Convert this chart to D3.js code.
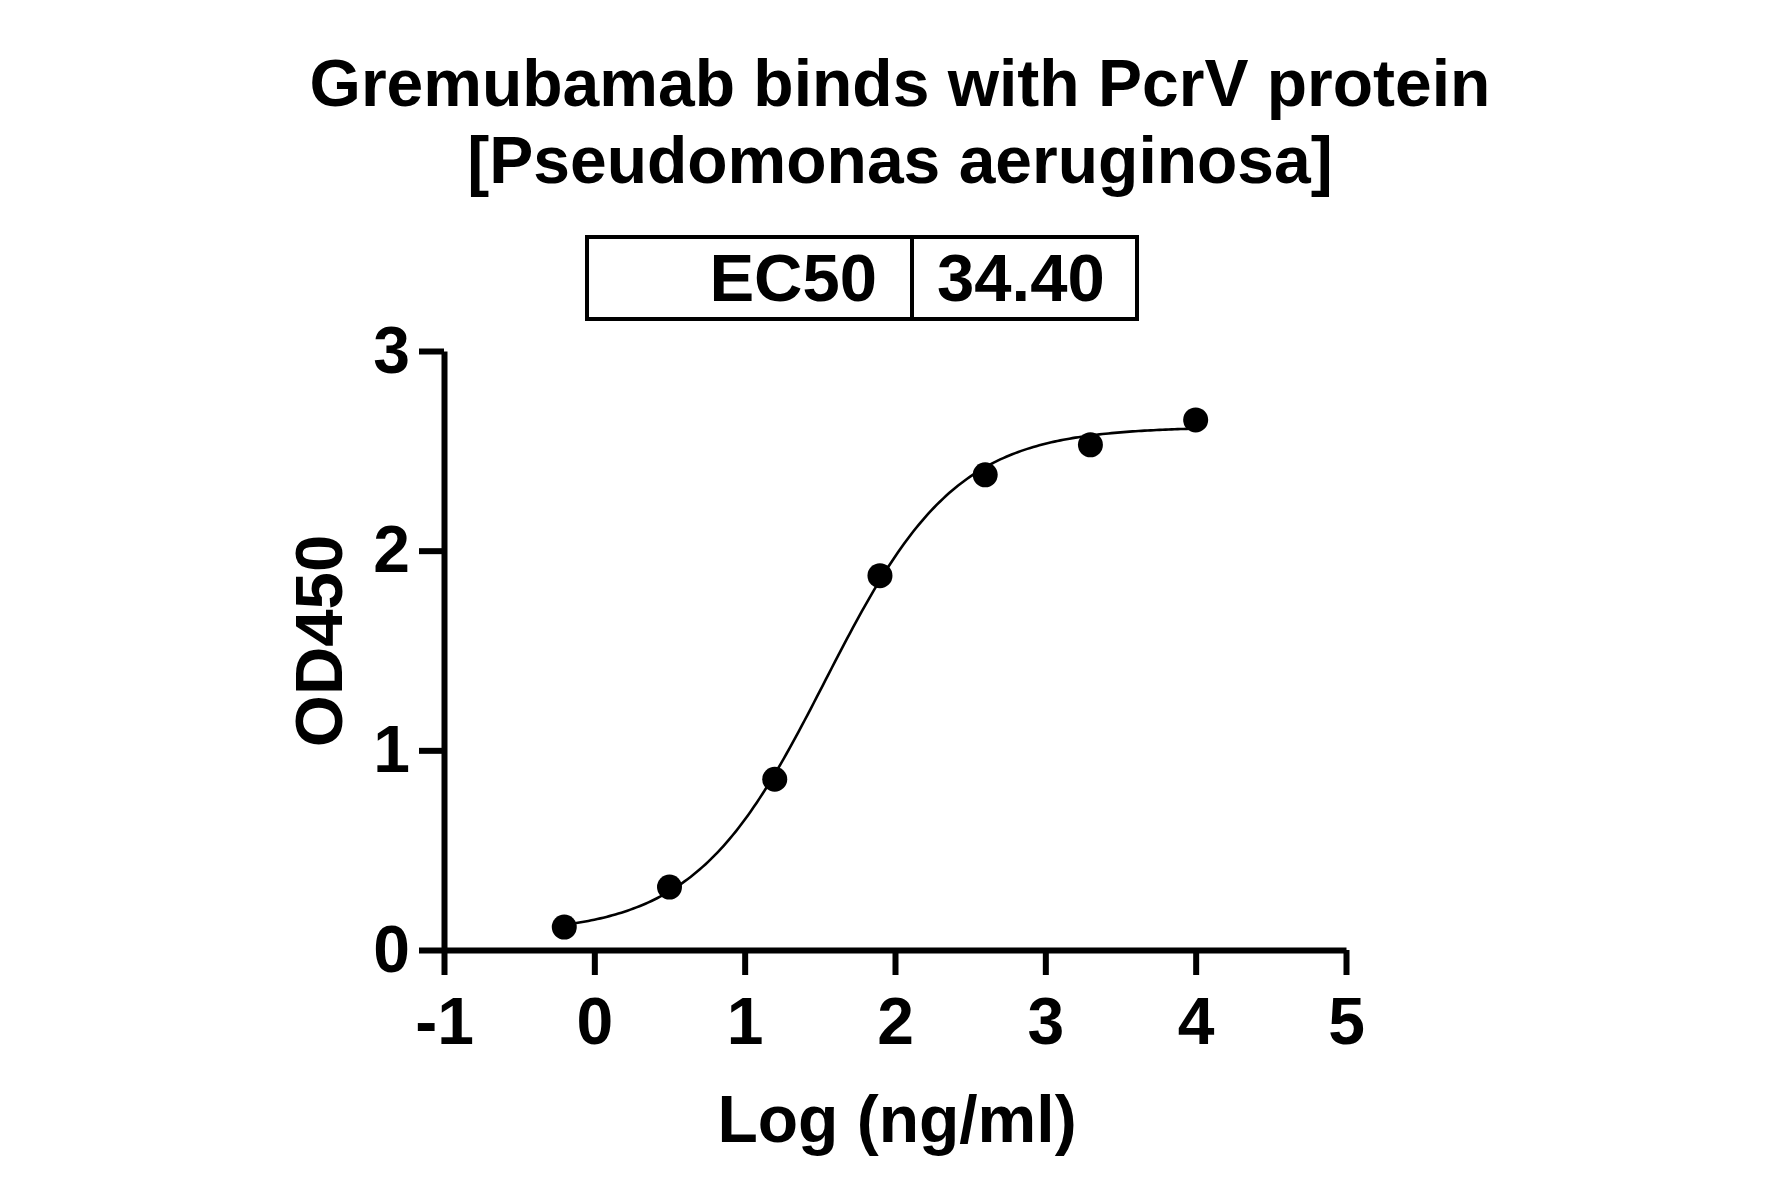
<!DOCTYPE html>
<html>
<head>
<meta charset="utf-8">
<script src="https://cdn.jsdelivr.net/npm/d3@7"></script>
<style>
  body { margin: 0; background: #fff; }
  text { font-family: "Liberation Sans", Arial, sans-serif; font-weight: bold; fill: #000; }
</style>
</head>
<body>
<svg id="chart" width="1781" height="1197"></svg>
<script>
// data
var titleLines = ["Gremubamab binds with PcrV protein", "[Pseudomonas aeruginosa]"];
var logConc = [-0.2, 0.5, 1.2, 1.9, 2.6, 3.3, 4.0];
var od450 = [0.115, 0.315, 0.855, 1.875, 2.38, 2.53, 2.655];
var xTicks = [-1, 0, 1, 2, 3, 4, 5];
var yTicks = [0, 1, 2, 3];
var ec50Label = "EC50";
var ec50Value = 34.40;
// 4PL fit parameters (bottom, top, hill); logEC50 from the table value
var fitBottom = 0.08, fitTop = 2.62, fitHill = 1.0;

var svg = d3.select("#chart");

var x = d3.scaleLinear().domain([-1, 5]).range([444, 1346]);
var y = d3.scaleLinear().domain([0, 3]).range([950, 351]);

//title
svg.selectAll("text.title").data(titleLines).enter().append("text")
    .attr("class", "title")
    .attr("x", 900)
    .attr("y", function(d, i) { return 106 + 77 * i; })
    .attr("text-anchor", "middle")
    .style("font-size", "66px")
    .text(function(d) { return d; });

//EC50 table
var box = svg.append("g").attr("class", "ec50");
box.append("rect")
    .attr("x", 587).attr("y", 237)
    .attr("width", 550).attr("height", 82)
    .style("fill", "none").style("stroke", "#000").style("stroke-width", 4);
box.append("line")
    .attr("x1", 912).attr("x2", 912).attr("y1", 237).attr("y2", 319)
    .style("stroke", "#000").style("stroke-width", 4);
box.append("text")
    .attr("x", 877).attr("y", 301)
    .attr("text-anchor", "end")
    .style("font-size", "67px")
    .text(ec50Label);
box.append("text")
    .attr("x", 937).attr("y", 301)
    .style("font-size", "67px")
    .text(ec50Value.toFixed(2));

//axes
var xAxis = d3.axisBottom(x).tickValues(xTicks).tickSize(25).tickSizeOuter(0).tickPadding(22)
    .tickFormat(function(d) { return String(d); });
var yAxis = d3.axisLeft(y).tickValues(yTicks).tickSize(25).tickSizeOuter(0).tickPadding(9)
    .tickFormat(function(d) { return String(d); });

var gx = svg.append("g").attr("transform", "translate(0,950)").call(xAxis);
var gy = svg.append("g").attr("transform", "translate(444,0)").call(yAxis);

[gx, gy].forEach(function(g) {
  g.selectAll("path.domain").style("stroke", "#000").style("stroke-width", 6);
  g.selectAll(".tick line").style("stroke", "#000").style("stroke-width", 6);
  g.selectAll(".tick text")
      .style("font-family", "'Liberation Sans', Arial, sans-serif")
      .style("font-weight", "bold")
      .style("font-size", "66px")
      .style("fill", "#000");
});

//axis titles
svg.append("text")
    .attr("x", 897).attr("y", 1142)
    .attr("text-anchor", "middle")
    .style("font-size", "66px")
    .text("Log (ng/ml)");
svg.append("text")
    .attr("transform", "translate(342,641) rotate(-90)")
    .attr("text-anchor", "middle")
    .style("font-size", "67px")
    .text("OD450");

//fitted curve
var logEC50 = Math.log10(ec50Value);
function fourPL(v) {
  return fitBottom + (fitTop - fitBottom) / (1 + Math.pow(10, (logEC50 - v) * fitHill));
}
var xs = d3.range(logConc[0], logConc[logConc.length - 1] + 0.001, 0.02);
var line = d3.line()
    .x(function(d) { return x(d); })
    .y(function(d) { return y(fourPL(d)); });
svg.append("path")
    .datum(xs)
    .attr("d", line)
    .style("fill", "none")
    .style("stroke", "#000")
    .style("stroke-width", 2.6);

//points
svg.selectAll("circle.pt").data(logConc).enter().append("circle")
    .attr("class", "pt")
    .attr("cx", function(d) { return x(d); })
    .attr("cy", function(d, i) { return y(od450[i]); })
    .attr("r", 12.5)
    .style("fill", "#000");
</script>
</body>
</html>
